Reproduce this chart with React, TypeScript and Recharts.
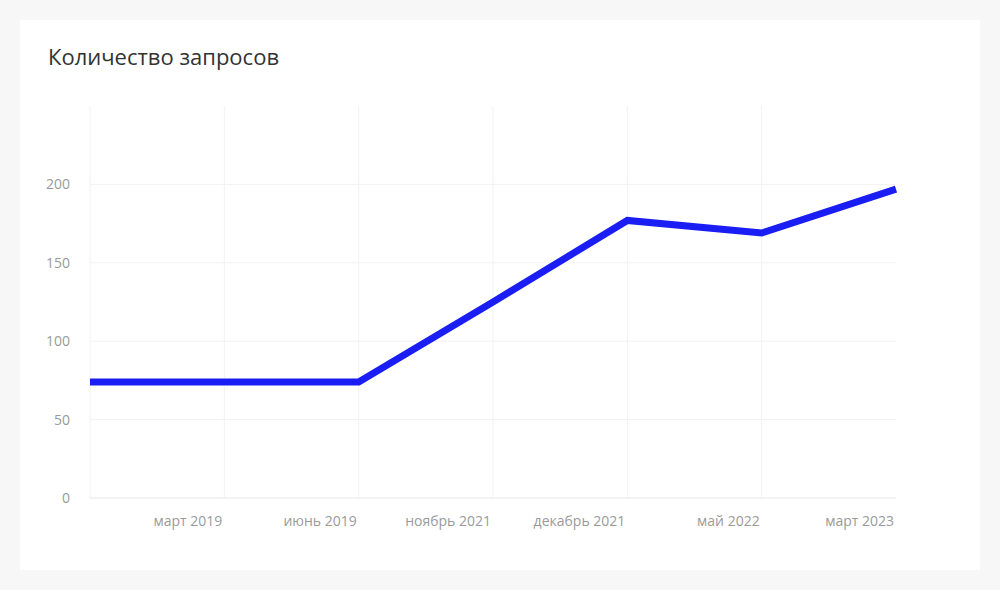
import React from "react";
import { LineChart, Line, XAxis, YAxis, CartesianGrid } from "recharts";

const months = ["", "март 2019", "июнь 2019", "ноябрь 2021", "декабрь 2021", "май 2022", "март 2023"];
const requests = [74, 74, 74, 125, 177, 169, 197];
const yTicks = [0, 50, 100, 150, 200];
const yMax = 250;

const data = months.map((m, i) => ({ month: m, value: requests[i] }));

const FONT = "'Open Sans', sans-serif";

const XTick = (props: any) => {
  const { x, y, payload } = props;
  return (
    <text x={x - 2} y={y + 28} textAnchor="end" fill="#9a9a9a" fontSize={14} fontFamily={FONT}>
      {payload.value}
    </text>
  );
};

const hGen = (args: any) => {
  const o = args && args.offset;
  if (!o) return [];
  return yTicks.map((t) => o.top + o.height * (1 - t / yMax));
};

const vGen = (args: any) => {
  const o = args && args.offset;
  if (!o) return [];
  return months.slice(0, -1).map((_, i) => o.left + (o.width * i) / (months.length - 1));
};

export default function App() {
  return (
    <div style={{ position: "absolute", left: 0, top: 0, width: 1000, height: 590, background: "#f7f7f7" }}>
      <div style={{ position: "absolute", left: 20, top: 20, width: 960, height: 550, background: "#ffffff" }}>
        <div
          style={{
            position: "absolute",
            left: 28,
            top: 21,
            fontFamily: FONT,
            fontSize: 22,
            color: "#333333",
            whiteSpace: "nowrap",
          }}
        >
          Количество запросов
        </div>
        <div style={{ position: "absolute", left: 0, top: 0 }}>
          <LineChart width={960} height={550} data={data} margin={{ top: 86, right: 84, bottom: 71, left: 0 }}>
            <CartesianGrid
              stroke="#f2f2f2"
              strokeWidth={1}
              horizontalCoordinatesGenerator={hGen}
              verticalCoordinatesGenerator={vGen}
            />
            <XAxis
              dataKey="month"
              axisLine={{ stroke: "#ebebeb", strokeWidth: 1 }}
              tickLine={false}
              tickSize={0}
              tickMargin={0}
              tick={<XTick />}
              interval={0}
              height={1}
            />
            <YAxis
              domain={[0, yMax]}
              ticks={yTicks}
              width={70}
              axisLine={false}
              tickLine={false}
              tickSize={6}
              tickMargin={14}
              tick={{ fill: "#9a9a9a", fontSize: 14, fontFamily: FONT }}
            />
            <Line
              type="linear"
              dataKey="value"
              stroke="#1a1ef5"
              strokeWidth={7}
              dot={false}
              activeDot={false}
              isAnimationActive={false}
            />
          </LineChart>
        </div>
      </div>
    </div>
  );
}
